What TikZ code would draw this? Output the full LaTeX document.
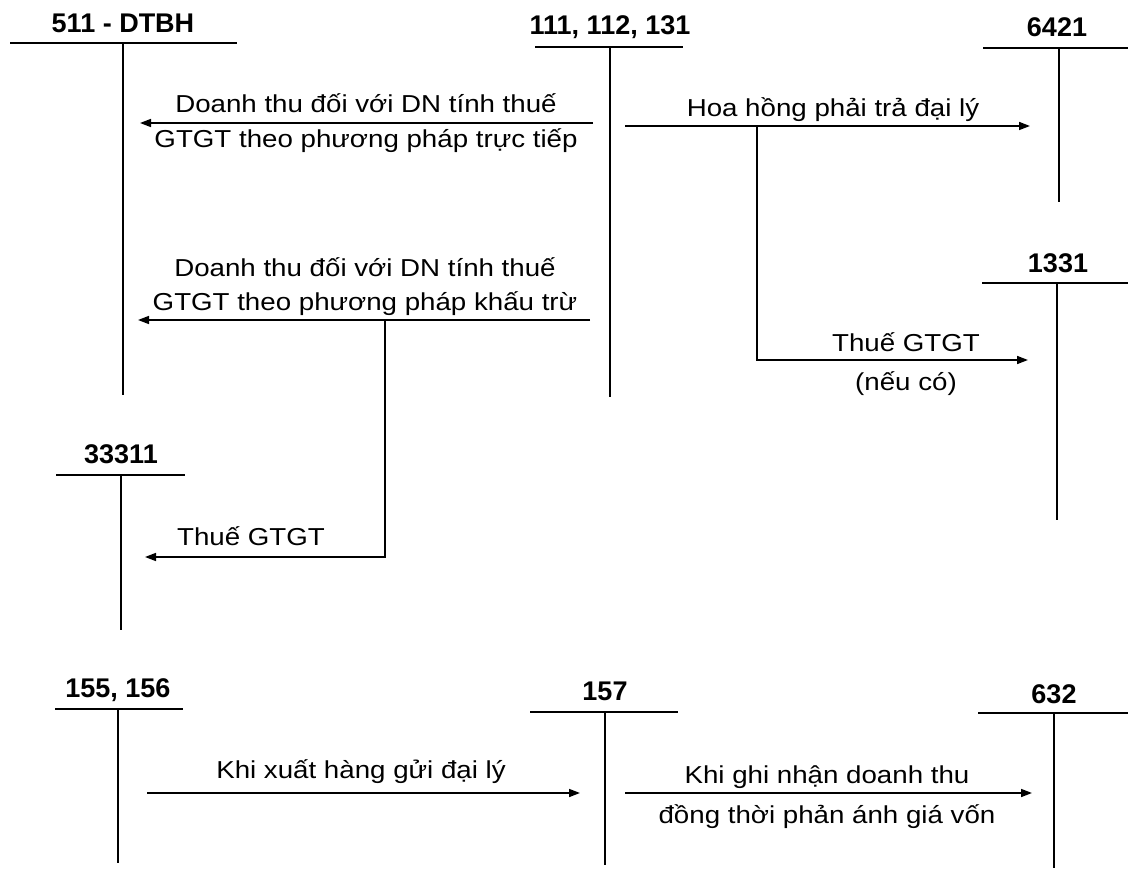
\documentclass[tikz,border=0pt]{standalone}
\usepackage{fontspec}
\setmainfont{Liberation Sans}[FakeStretch=1.13]
\newfontfamily\acctfont{Liberation Sans}[FakeStretch=1.0]
\usepackage{tikz}
\usetikzlibrary{arrows.meta}

\tikzset{
	acct/.style={font=\acctfont\bfseries\fontsize{27}{32}\selectfont, anchor=base, inner sep=0pt},
	txt/.style={font=\fontsize{24.5}{29}\selectfont, anchor=base, inner sep=0pt},
	tline/.style={line width=1.8pt},
	flow/.style={line width=1.6pt, -{Triangle[length=11pt,width=8pt]}}
}

\begin{document}
\begin{tikzpicture}[x=1pt, y=-1pt]
	\useasboundingbox (0,0) rectangle (1128,869);
	% T accounts
	\node[acct] (a511) at (123,33) {511 - DTBH};
	\coordinate (a511l) at (10,43); \coordinate (a511r) at (237,43);
	\coordinate (a511t) at (123,43); \coordinate (a511b) at (123,395);
	\draw[tline] (a511l) -- (a511r); \draw[tline] (a511t) -- (a511b);

	\node[acct] (a111) at (610,35) {111, 112, 131};
	\coordinate (a111l) at (535,47); \coordinate (a111r) at (683,47);
	\coordinate (a111t) at (610,47); \coordinate (a111b) at (610,397);
	\draw[tline] (a111l) -- (a111r); \draw[tline] (a111t) -- (a111b);

	\node[acct] (a6421) at (1057,37) {6421};
	\coordinate (a6421l) at (983,48); \coordinate (a6421r) at (1128,48);
	\coordinate (a6421t) at (1059,48); \coordinate (a6421b) at (1059,202);
	\draw[tline] (a6421l) -- (a6421r); \draw[tline] (a6421t) -- (a6421b);

	\node[acct] (a1331) at (1058,273) {1331};
	\coordinate (a1331l) at (982,283); \coordinate (a1331r) at (1128,283);
	\coordinate (a1331t) at (1057,283); \coordinate (a1331b) at (1057,520);
	\draw[tline] (a1331l) -- (a1331r); \draw[tline] (a1331t) -- (a1331b);

	\node[acct] (a33311) at (121,463) {33311};
	\coordinate (a33311l) at (56,475); \coordinate (a33311r) at (185,475);
	\coordinate (a33311t) at (121,475); \coordinate (a33311b) at (121,630);
	\draw[tline] (a33311l) -- (a33311r); \draw[tline] (a33311t) -- (a33311b);

	\node[acct] (a155) at (118,697) {155, 156};
	\coordinate (a155l) at (55,709); \coordinate (a155r) at (183,709);
	\coordinate (a155t) at (118,709); \coordinate (a155b) at (118,863);
	\draw[tline] (a155l) -- (a155r); \draw[tline] (a155t) -- (a155b);

	\node[acct] (a157) at (605,700) {157};
	\coordinate (a157l) at (530,712); \coordinate (a157r) at (678,712);
	\coordinate (a157t) at (605,712); \coordinate (a157b) at (605,865);
	\draw[tline] (a157l) -- (a157r); \draw[tline] (a157t) -- (a157b);

	\node[acct] (a632) at (1054,703) {632};
	\coordinate (a632l) at (978,713); \coordinate (a632r) at (1128,713);
	\coordinate (a632t) at (1054,713); \coordinate (a632b) at (1054,868);
	\draw[tline] (a632l) -- (a632r); \draw[tline] (a632t) -- (a632b);

	% entries
	\coordinate (tt1) at (593,123); \coordinate (tt2) at (140,123);
	\draw[flow] (tt1) -- (tt2);
	\node[txt] (tt1a) at (366,113) {Doanh thu đối với DN tính thuế};
	\node[txt] (tt1b) at (366,148) {GTGT theo phương pháp trực tiếp};

	\coordinate (kt1) at (590,320); \coordinate (kt2) at (138,320);
	\draw[flow] (kt1) -- (kt2);
	\node[txt] (kt1a) at (365,277) {Doanh thu đối với DN tính thuế};
	\node[txt] (kt1b) at (365,310) {GTGT theo phương pháp khấu trừ};
	\coordinate (vat1) at (385,320); \coordinate (vat1e) at (145,557);
	\draw[flow] (vat1) |- (vat1e);
	\node[txt] (vat1a) at (251,545) {Thuế GTGT};

	\coordinate (hh1) at (625,126); \coordinate (hh2) at (1030,126);
	\draw[flow] (hh1) -- (hh2);
	\node[txt] (hh1a) at (833,117) {Hoa hồng phải trả đại lý};
	\coordinate (vat2) at (757,126); \coordinate (vat2e) at (1028,360);
	\draw[flow] (vat2) |- (vat2e);
	\node[txt] (vat2a) at (906,351) {Thuế GTGT};
	\node[txt] (vat2b) at (906,390) {(nếu có)};

	\coordinate (gd1) at (147,793); \coordinate (gd2) at (580,793);
	\draw[flow] (gd1) -- (gd2);
	\node[txt] (gd1a) at (361,778) {Khi xuất hàng gửi đại lý};

	\coordinate (gv1) at (625,793); \coordinate (gv2) at (1032,793);
	\draw[flow] (gv1) -- (gv2);
	\node[txt] (gv1a) at (827,783) {Khi ghi nhận doanh thu};
	\node[txt] (gv1b) at (827,823) {đồng thời phản ánh giá vốn};
\end{tikzpicture}
\end{document}
